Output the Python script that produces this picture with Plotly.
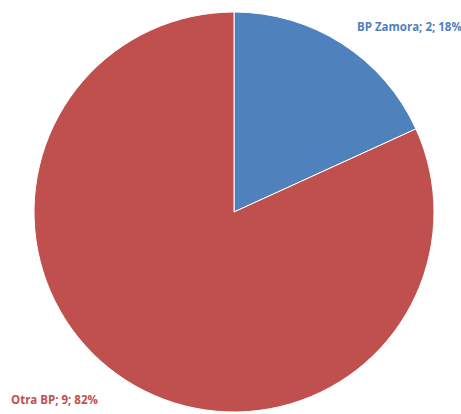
import plotly.graph_objects as go

labels = ["BP Zamora", "Otra BP"]
values = [2, 9]
colors = ["#4F81BD", "#C0504D"]

W, H = 461, 414
total = sum(values)
pcts = [round(v / total * 100) for v in values]

fig = go.Figure(go.Pie(
    labels=labels,
    values=values,
    sort=False,
    direction="clockwise",
    rotation=0,
    marker=dict(colors=colors, line=dict(color="white", width=1)),
    textinfo="none",
    hoverinfo="label+value+percent",
    showlegend=False,
    domain=dict(x=[34 / W, 434 / W], y=[2 / H, 402 / H]),
))

label_pos = [(355, 26, "left"), (9, 399, "left")]
annotations = []
for (lab, val, pct, col, (px, py, anc)) in zip(labels, values, pcts, colors, label_pos):
    annotations.append(dict(
        text=f"<b>{lab}; {val}; {pct}%</b>",
        x=px / W, y=1 - py / H, xref="paper", yref="paper",
        xanchor=anc, yanchor="middle", showarrow=False,
        font=dict(family="Open Sans", size=11.5, color=col),
    ))

fig.update_layout(
    width=W, height=H,
    margin=dict(l=0, r=0, t=0, b=0),
    paper_bgcolor="white", plot_bgcolor="white",
    annotations=annotations,
)

fig.write_html("out.html", config={"displayModeBar": False},
               post_script="document.body.style.margin='0';")
